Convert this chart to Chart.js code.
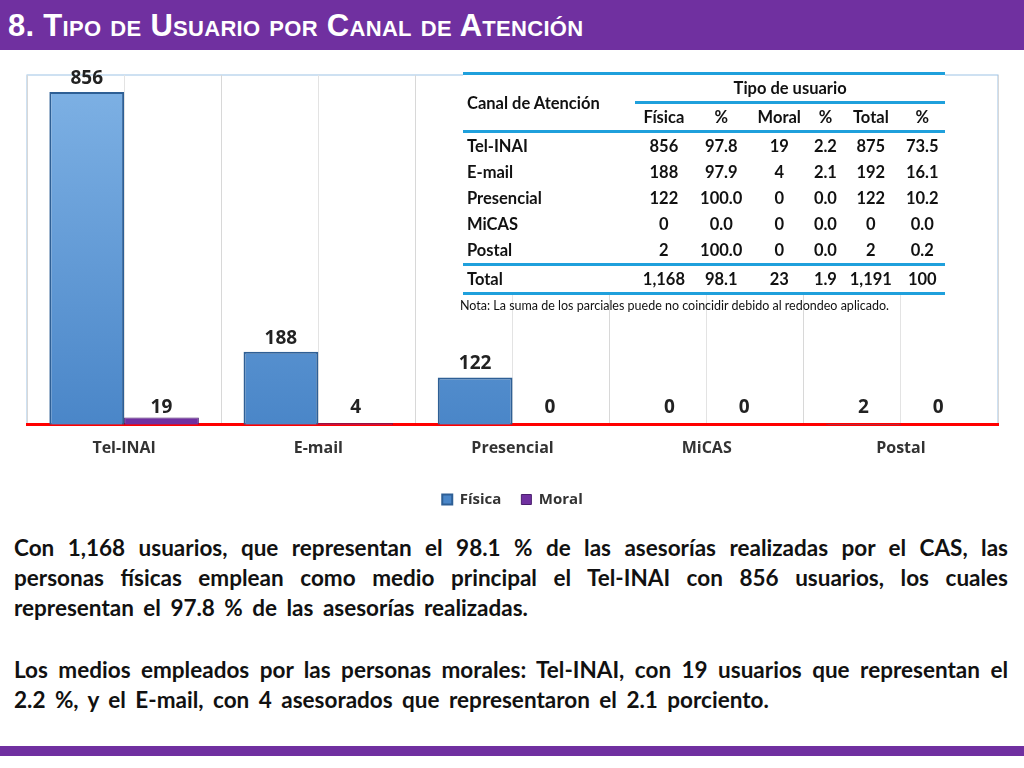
<!DOCTYPE html>
<html>
<head>
<meta charset="utf-8">
<script src="https://cdn.jsdelivr.net/npm/chart.js@4"></script>
<style>
  body { margin: 0; width: 1024px; height: 768px; background: #fff; position: relative; overflow: hidden; font-family: Lato, "Open Sans", sans-serif; }
  #bar { position: absolute; left: 0; top: 0; width: 1024px; height: 50px; background: #7030a0; }
  #title { position: absolute; left: 8px; top: 8px; color: #fff; font: bold 31px "Liberation Sans", Arial, sans-serif; font-variant: small-caps; letter-spacing: 0.3px; }
  #foot { position: absolute; left: 0; top: 746px; width: 1024px; height: 10px; background: #7030a0; }
  #wrap { position: absolute; left: 0; top: 55px; width: 1024px; height: 462px; }
  #tbl { position: absolute; left: 463px; top: 72px; width: 482px; font: bold 16.5px Lato, sans-serif; color: #111; }
  #tbl table { border-collapse: collapse; width: 100%; background: #fff; }
  #tbl td { padding: 0 2px; height: 26px; text-align: center; }
  #tbl td.l { text-align: left; padding-left: 4px; }
  #tbl .tb { border-top: 3px solid #1fa0dc; }
  #tbl .bb { border-bottom: 3px solid #1fa0dc; }
  #nota { font: 12.5px Lato, sans-serif; color: #111; margin-top: 3px; margin-left: -3px; }
  #txt { position: absolute; left: 14px; top: 533px; width: 994px; font: bold 22.5px Lato, sans-serif; word-spacing: 4px; line-height: 30px; color: #111; text-align: justify; }
  #txt p { margin: 0 0 32px 0; }
</style>
</head>
<body>
<div id="bar"></div>
<div id="title">8. Tipo de Usuario por Canal de Atención</div>
<div id="wrap"><canvas id="c"></canvas></div>
<div id="tbl"></div>
<div id="txt">
  <p>Con 1,168 usuarios, que representan el 98.1 % de las asesorías realizadas por el CAS, las personas físicas emplean como medio principal el Tel-INAI con 856 usuarios, los cuales representan el 97.8 % de las asesorías realizadas.</p>
  <p>Los medios empleados por las personas morales: Tel-INAI, con 19 usuarios que representan el 2.2 %, y el E-mail, con 4 asesorados que representaron el 2.1 porciento.</p>
</div>
<div id="foot"></div>
<script>
const canales = ["Tel-INAI", "E-mail", "Presencial", "MiCAS", "Postal"];
const fisica = [856, 188, 122, 0, 2];
const moral = [19, 4, 0, 0, 0];
const pctFisica = ["97.8", "97.9", "100.0", "0.0", "100.0"];
const pctMoral = ["2.2", "2.1", "0.0", "0.0", "0.0"];
const totales = [875, 192, 122, 0, 2];
const pctTotal = ["73.5", "16.1", "10.2", "0.0", "0.2"];
const totalRow = ["Total", "1,168", "98.1", "23", "1.9", "1,191", "100"];

// table
let h = '<table>';
h += '<tr><td class="l tb" rowspan="2" style="vertical-align:middle">Canal de Atención</td>' +
     '<td class="tb bb" colspan="6">Tipo de usuario</td></tr>';
h += '<tr class="bb"><td>Física</td><td>%</td><td>Moral</td><td>%</td><td>Total</td><td>%</td></tr>';
canales.forEach((c, i) => {
  const last = i === canales.length - 1 ? ' class="bb"' : '';
  h += `<tr${last}><td class="l">${c}</td><td>${fisica[i]}</td><td>${pctFisica[i]}</td><td>${moral[i]}</td><td>${pctMoral[i]}</td><td>${totales[i]}</td><td>${pctTotal[i]}</td></tr>`;
});
h += '<tr class="bb">' + totalRow.map((v, i) => `<td${i ? '' : ' class="l"'}>${v}</td>`).join('') + '</tr>';
h += '</table><div id="nota">Nota: La suma de los parciales puede no coincidir debido al redondeo aplicado.</div>';
document.getElementById('tbl').innerHTML = h;

function blueFill(ctx) {
  const a = ctx.chart.chartArea;
  if (!a) return '#5b9bd5';
  const g = ctx.chart.ctx.createLinearGradient(0, a.top, 0, a.bottom);
  g.addColorStop(0, '#7fb2e5');
  g.addColorStop(1, '#4a86c8');
  return g;
}

const valueLabels = {
  id: 'valueLabels',
  afterDatasetsDraw(chart) {
    const ctx = chart.ctx;
    ctx.save();
    ctx.font = 'bold 19px "Open Sans", sans-serif';
    ctx.fillStyle = '#222';
    ctx.textAlign = 'center';
    ctx.textBaseline = 'bottom';
    chart.data.datasets.forEach((ds, di) => {
      chart.getDatasetMeta(di).data.forEach((bar, i) => {
        const v = ds.data[i];
        const y = v < 30 ? chart.chartArea.bottom - 8 : bar.y - 4;
        ctx.fillText(String(v), bar.x, y);
      });
    });
    ctx.restore();
  },
  beforeDraw(chart) {
    const a = chart.chartArea, ctx = chart.ctx;
    ctx.save();
    ctx.strokeStyle = '#9dc3e6';
    ctx.lineWidth = 1;
    ctx.strokeRect(a.left, a.top, a.right - a.left, a.bottom - a.top);
    ctx.restore();
  }
};

new Chart(document.getElementById('c'), {
  type: 'bar',
  data: {
    labels: canales,
    datasets: [
      { label: 'Física', data: fisica, backgroundColor: blueFill, borderColor: '#2e5f95', borderWidth: 2,
        categoryPercentage: 0.77, barPercentage: 1 },
      { label: 'Moral', data: moral, backgroundColor: '#7030a0', borderColor: '#4b1f6e', borderWidth: 1,
        categoryPercentage: 0.77, barPercentage: 1 },
    ],
  },
  options: {
    responsive: true,
    maintainAspectRatio: false,
    animation: false,
    layout: { padding: { left: 27, right: 26, top: 20, bottom: 0 } },
    plugins: {
      legend: {
        position: 'bottom',
        labels: { boxWidth: 10, boxHeight: 10, color: '#333', font: { size: 15, weight: 'bold', family: '"Open Sans"' }, padding: 20 },
      },
      tooltip: { enabled: false },
    },
    scales: {
      x: {
        grid: { offset: false, color: '#e3e3e3', drawTicks: false },
        border: { color: '#ff0000', width: 3 },
        ticks: { color: '#333', padding: 14, font: { size: 16, weight: 'bold', family: '"Open Sans"' } },
      },
      x2: {
        position: 'bottom',
        grid: { offset: true, color: '#d8d8d8', drawTicks: false },
        border: { display: false },
        ticks: { display: false },
      },
      y: {
        display: false,
        min: 0,
        max: 900,
      },
    },
  },
  plugins: [valueLabels],
});
</script>
</body>
</html>
